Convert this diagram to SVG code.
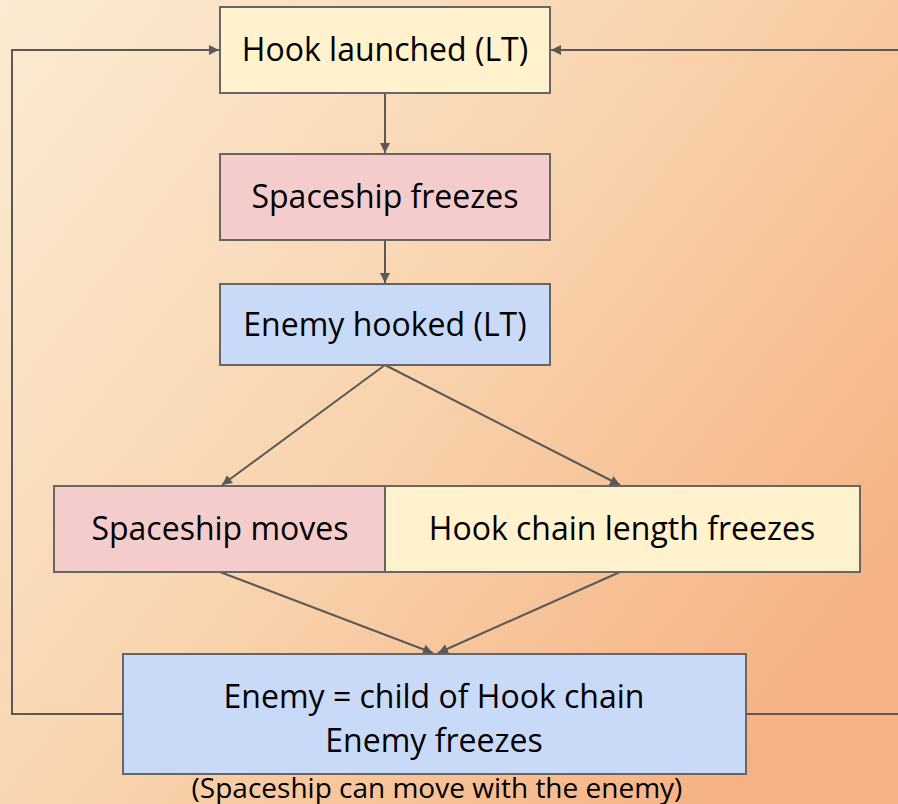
<svg xmlns="http://www.w3.org/2000/svg" width="898" height="804" viewBox="0 0 898 804">
<defs>
<linearGradient id="bg" x1="0" y1="0" x2="1" y2="0.7">
<stop offset="0" stop-color="#fbebd2"/>
<stop offset="0.5" stop-color="#f9d5b0"/>
<stop offset="1" stop-color="#f6b284"/>
</linearGradient>
<marker id="ah" viewBox="0 0 10 10" refX="10" refY="5" markerWidth="10" markerHeight="10" markerUnits="userSpaceOnUse" orient="auto">
<path d="M0,0 L10,5 L0,10 Z" fill="#595959"/>
</marker>
<style>
.box{stroke:#666666;stroke-width:2}
.y{fill:#fff2cc}.r{fill:#f4cccc}.b{fill:#c9daf8}
.t{font-family:"Open Sans","Noto Sans",sans-serif;font-size:32px;fill:#000;text-anchor:middle}
.s{font-size:28px}
.c{fill:none;stroke:#595959;stroke-width:2}
</style>
</defs>
<rect width="898" height="804" fill="url(#bg)"/>
<g id="connectors">
<path class="c" d="M385,93 V153" marker-end="url(#ah)"/>
<path class="c" d="M385,240 V283" marker-end="url(#ah)"/>
<path class="c" d="M385,365 L222,485" marker-end="url(#ah)"/>
<path class="c" d="M385,365 L620,485" marker-end="url(#ah)"/>
<path class="c" d="M220,572 L433,653" marker-end="url(#ah)"/>
<path class="c" d="M620,572 L438,653" marker-end="url(#ah)"/>
<path class="c" d="M123,714 H12 V50 H219" marker-end="url(#ah)"/>
<path class="c" d="M746,714 H899"/>
<path class="c" d="M899,50 H551" marker-end="url(#ah)"/>
</g>
<g id="n1"><rect class="box y" x="220" y="7" width="330" height="86"/><text class="t" x="385" y="61">Hook launched (LT)</text></g>
<g id="n2"><rect class="box r" x="220" y="154" width="330" height="86"/><text class="t" x="385" y="208">Spaceship freezes</text></g>
<g id="n3"><rect class="box b" x="220" y="284" width="330" height="81"/><text class="t" x="385" y="336">Enemy hooked (LT)</text></g>
<g id="n4"><rect class="box r" x="54" y="486" width="331" height="86"/><text class="t" x="220" y="540">Spaceship moves</text></g>
<g id="n5"><rect class="box y" x="385" y="486" width="475" height="86"/><text class="t" x="622" y="540">Hook chain length freezes</text></g>
<g id="n6"><rect class="box b" x="123" y="654" width="623" height="120"/><text class="t" x="434" y="708">Enemy = child of Hook chain</text><text class="t" x="434" y="752">Enemy freezes</text></g>
<text class="t s" x="437" y="798">(Spaceship can move with the enemy)</text>
</svg>
